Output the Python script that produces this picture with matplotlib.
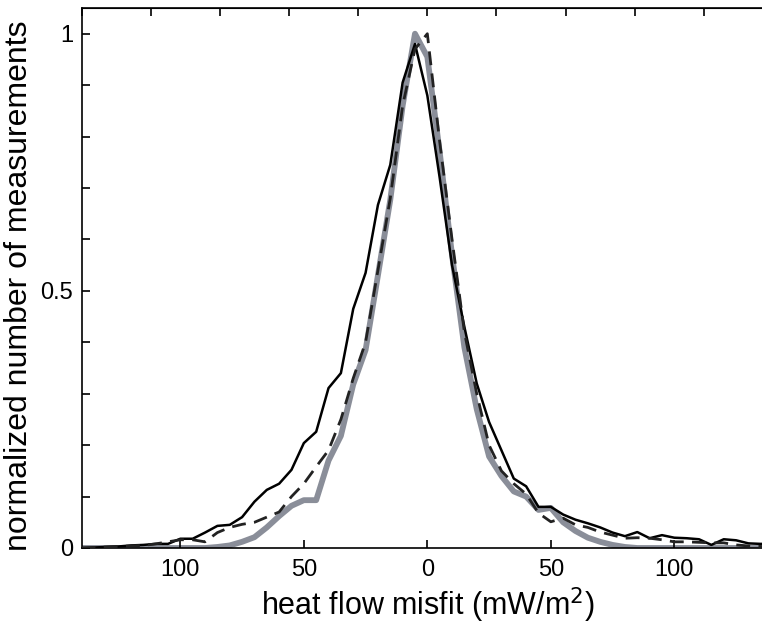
import numpy as np
import matplotlib
matplotlib.use("Agg")
import matplotlib.pyplot as plt
from matplotlib import font_manager

x = np.arange(-140, 141, 5)

solid = [0.0, 0.001, 0.002, 0.003, 0.005, 0.006, 0.008, 0.008, 0.018, 0.018,
         0.03, 0.043, 0.045, 0.06, 0.09, 0.113, 0.125, 0.152, 0.204, 0.226,
         0.311, 0.34, 0.465, 0.535, 0.667, 0.745, 0.905, 0.98, 0.88, 0.72,
         0.55, 0.43, 0.32, 0.245, 0.19, 0.135, 0.12, 0.08, 0.08, 0.065,
         0.055, 0.048, 0.04, 0.03, 0.023, 0.031, 0.019, 0.025, 0.02, 0.019,
         0.017, 0.006, 0.017, 0.015, 0.009, 0.008, 0.008]

dashed = [0.0, 0.001, 0.002, 0.003, 0.004, 0.005, 0.008, 0.012, 0.016, 0.016,
          0.012, 0.03, 0.04, 0.046, 0.05, 0.06, 0.07, 0.1, 0.125, 0.158,
          0.19, 0.25, 0.33, 0.4, 0.54, 0.68, 0.86, 0.97, 1.0, 0.79,
          0.6, 0.42, 0.3, 0.2, 0.15, 0.125, 0.105, 0.068, 0.051, 0.058,
          0.045, 0.04, 0.031, 0.025, 0.019, 0.02, 0.019, 0.016, 0.012, 0.012,
          0.011, 0.01, 0.01, 0.006, 0.004, 0.003, 0.002]

gray = [0.0, 0.0, 0.0, 0.0, 0.0, 0.0, 0.0, 0.0, 0.0, 0.0,
        0.0, 0.002, 0.005, 0.012, 0.021, 0.04, 0.062, 0.082, 0.093, 0.093,
        0.17, 0.218, 0.318, 0.385, 0.53, 0.677, 0.86, 1.0, 0.955, 0.77,
        0.57, 0.39, 0.27, 0.178, 0.14, 0.11, 0.1, 0.074, 0.078, 0.05,
        0.033, 0.02, 0.012, 0.006, 0.002, 0.0, 0.0, 0.0, 0.0, 0.0,
        0.0, 0.0, 0.0, 0.0, 0.0, 0.0, 0.0]

xticks = [-100, -50, 0, 50, 100]
xticklabels = ["100", "50", "0", "50", "100"]
yticks = np.round(np.arange(0, 1.01, 0.1), 2)
yticklabels = ["0", "", "", "", "", "0.5", "", "", "", "", "1"]

names = {f.name for f in font_manager.fontManager.ttflist}
fam = "Liberation Sans Narrow" if "Liberation Sans Narrow" in names else "Liberation Sans"
plt.rcParams['font.family'] = [fam, 'DejaVu Sans']

fig = plt.figure(figsize=(7.62, 6.25), dpi=100)
ax = fig.add_axes([0.107, 0.1232, 0.9076, 0.864])

ax.plot(x, gray, color="#8a8e99", lw=4.2, solid_joinstyle="round", zorder=1)
ax.plot(x, solid, color="black", lw=1.8, zorder=2)
ax.plot(x, dashed, color="#222222", lw=2.0, dashes=(5, 3), zorder=3)

ax.set_xlim(-140, 140)
ax.set_ylim(0, 1.05)
ax.set_xticks(xticks)
ax.set_xticklabels(xticklabels, fontsize=17)
ax.set_yticks(yticks)
ax.set_yticklabels(yticklabels, fontsize=17)
ax.tick_params(direction="in", length=6, width=1.2, pad=6)
ax.tick_params(axis="x", pad=8)

top = ax.secondary_xaxis("top")
top.set_xticks(np.arange(-140, 141, 28))
top.set_xticklabels([])
top.tick_params(direction="in", length=6, width=1.2)

for s in ax.spines.values():
    s.set_linewidth(1.2)

ax.set_xlabel("heat flow misfit (mW/m$^{2}$)", fontsize=22, labelpad=3)
ax.set_ylabel("normalized number of measurements", fontsize=23, labelpad=5)
ax.yaxis.label.set_y(0.485)

fig.savefig("out.png", dpi=100)
